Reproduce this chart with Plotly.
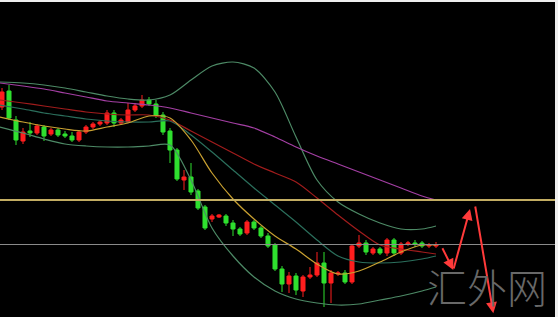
import plotly.graph_objects as go

# ---- candle data (bar index, OHLC in price units) ----
bars = list(range(63))
opens = [213,229,200,179,189,187,193,186,190,186,184,180,188,193,196,197,207,197,198,210,
         214,220,216,205,189,170,140,143,129,113,101,103,104,97,91,87,98,92,84,75,
         51,36,44,29,43,45,57,37,46,47,38,74,77,67,71,67,80,67,76,77,
         77,74,74]
highs = [232,235,204,192,198,196,195,192,192,189,188,190,195,198,200,210,210,202,217,217,
         225,223,220,208,192,172,150,157,131,115,106,106,106,100,93,100,100,94,87,77,
         54,48,47,45,53,68,68,50,49,50,76,85,80,73,73,82,82,78,79,80,
         79,77,78]
lows = [210,200,175,176,183,185,179,184,183,182,178,178,186,191,194,195,193,195,197,208,
        212,214,202,185,157,139,130,125,110,90,98,102,94,84,84,85,90,82,72,49,
        28,27,25,23,41,43,13,17,44,36,36,72,65,65,65,64,64,65,74,73,
        72,72,72]
closes = [228,202,180,188,187,194,184,190,185,184,180,188,193,196,198,207,197,200,210,214,
          220,216,205,188,170,141,143,128,112,92,104,105,97,91,86,98,92,84,74,51,
          36,44,30,43,45,57,37,47,47,38,74,77,68,71,67,80,67,76,77,76,
          74,75,75]

# ---- indicator lines, sampled every 3 bars (first point at the left edge) ----
line_bars = [-0.3,3,6,9,12,15,18,21,24,27,30,33,36,39,42,45,48,51,54,57,60,62]
bb_upper = [238,237,235,232,228,224,221,220,225,240,254,258,252,228,183,140,118,106,97,91,91,94]
bb_mid   = [215,211,207,204,201,199,198,198,199,185,168,150,132,115,98,80,64,58,57,58,61,64]
bb_lower = [193,187,181,176,174,173,173,174,175,140,92,64,43,29,21,17,15,16,20,24,29,33]
ma_long  = [237,234,231,227,223,219,217,215,212,207,202,197,192,183,173,164,156,148,140,132,124,120]
ma_mid   = [220,217,214,211,208,206,205,205,200,189,178,167,156,147,138,122,105,89,75,71,68,66]
ma_short = [203,198,194,191,189,193,197,204,202,180,147,121,101,84,71,56,46,49,58,68,75,75]

# ---- horizontal levels ----
level_resistance = 120
level_support = 75.5

# ---- forecast arrows: (tail bar, tail price, head bar, head price) ----
arrows = [
    (62.81, 73.3, 64.47, 50.0),
    (64.47, 50.0, 66.86, 111.0),
    (67.57, 115.0, 70.19, 6.7),
]

watermark = "汇外网"

fig = go.Figure()

fig.add_trace(go.Candlestick(
    x=bars, open=opens, high=highs, low=lows, close=closes,
    increasing=dict(line=dict(color="#ff1e1e", width=1), fillcolor="#ff1e1e"),
    decreasing=dict(line=dict(color="#2fe02f", width=1), fillcolor="#2fe02f"),
    whiskerwidth=0, showlegend=False, hoverinfo="skip",
))

def add_line(vals, color, width=1.2):
    fig.add_trace(go.Scatter(x=line_bars, y=vals, mode="lines",
                             line=dict(color=color, width=width, shape="spline", smoothing=0.8),
                             showlegend=False, hoverinfo="skip"))

add_line(bb_upper, "#4d8a66")
add_line(bb_lower, "#4d8a66")
add_line(bb_mid, "#2b6f5c")
add_line(ma_long, "#a43fa4")
add_line(ma_mid, "#a11c1c")
add_line(ma_short, "#c9a131")

fig.add_hline(y=level_resistance, line=dict(color="#c2ad62", width=2))
fig.add_hline(y=level_support, line=dict(color="#8a8a8a", width=1))

for tx, ty, hx, hy in arrows:
    fig.add_annotation(x=hx, y=hy, ax=tx, ay=ty, xref="x", yref="y", axref="x", ayref="y",
                       showarrow=True, arrowhead=2, arrowsize=1.1, arrowwidth=2,
                       arrowcolor="#ff3a3a", standoff=0, startstandoff=0, text="")

fig.add_annotation(x=0.878, y=0.1, xref="paper", yref="paper", text=watermark,
                   showarrow=False, xanchor="center", yanchor="middle",
                   font=dict(family="Noto Sans CJK SC", size=40, color="#686868", weight=300))

fig.update_layout(
    width=558, height=317,
    margin=dict(l=0, r=3, t=2, b=0),
    paper_bgcolor="#eeeeee", plot_bgcolor="#000000",
    xaxis=dict(range=[-0.2857, 79.0], visible=False, rangeslider=dict(visible=False),
               showgrid=False, zeroline=False),
    yaxis=dict(range=[3, 318], visible=False, showgrid=False, zeroline=False),
    boxgap=0.18,
)

fig.write_html("out.html")
